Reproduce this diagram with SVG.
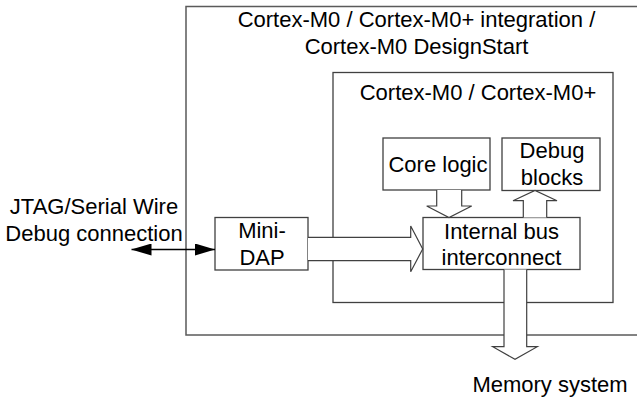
<svg xmlns="http://www.w3.org/2000/svg" width="637" height="398" viewBox="0 0 637 398">
<style>
  .box { fill: #ffffff; stroke: #404040; stroke-width: 1.3; }
  .outer { fill: #ffffff; stroke: #5a5a5a; stroke-width: 1.5; }
  .lbl { font-family: "Liberation Sans", Arial, sans-serif; font-size: 22px; fill: #000000; text-anchor: middle; }
  .barrow { fill: #ffffff; stroke: #404040; stroke-width: 1.2; stroke-linejoin: miter; }
  .wire { stroke: #000000; stroke-width: 1.3; fill: none; }
</style>
<defs>
  <marker id="ah" viewBox="0 0 20 12" refX="20" refY="6" markerWidth="20" markerHeight="12" markerUnits="userSpaceOnUse" orient="auto-start-reverse">
    <path d="M0,0 L20,6 L0,12 Z" fill="#000000"/>
  </marker>
</defs>
<rect width="637" height="398" fill="#ffffff"/>

<g id="integration">
  <rect class="outer" x="186" y="6.5" width="460" height="328.5"/>
  <text class="lbl" x="416.5" y="27">Cortex-M0 / Cortex-M0+ integration /</text>
  <text class="lbl" x="416.5" y="54">Cortex-M0 DesignStart</text>
</g>

<g id="cortex">
  <rect class="box" x="333" y="72.5" width="280" height="230"/>
  <text class="lbl" x="478" y="100">Cortex-M0 / Cortex-M0+</text>
</g>

<g id="core-logic">
  <rect class="box" x="383" y="138" width="107" height="52"/>
  <text class="lbl" x="438" y="171.5">Core logic</text>
</g>

<g id="debug-blocks">
  <rect class="box" x="502" y="138" width="98" height="52.5"/>
  <text class="lbl" x="552" y="158">Debug</text>
  <text class="lbl" x="552" y="185">blocks</text>
</g>

<g id="mini-dap">
  <rect class="box" x="215" y="217.5" width="93" height="52.5"/>
  <text class="lbl" x="262" y="237.5">Mini-</text>
  <text class="lbl" x="262" y="264.5">DAP</text>
</g>

<g id="bus">
  <rect class="box" x="423" y="217.5" width="157" height="52"/>
  <text class="lbl" x="501.5" y="238.5">Internal bus</text>
  <text class="lbl" x="501.5" y="265">interconnect</text>
</g>

<g id="jtag">
  <text class="lbl" x="94" y="214">JTAG/Serial Wire</text>
  <text class="lbl" x="94" y="241">Debug connection</text>
</g>

<g id="memory">
  <text class="lbl" x="550" y="392">Memory system</text>
</g>

<g id="connectors">
  <line class="wire" x1="131.5" y1="249.5" x2="215" y2="249.5" marker-start="url(#ah)" marker-end="url(#ah)"/>
  <path class="barrow" d="M308,237.3 L410.7,237.3 L410.7,226 L422.7,249 L410.7,271.7 L410.7,260.7 L308,260.7"/>
  <path class="barrow" d="M436.7,190 L436.7,206 L426.7,206 L449,217.5 L471.7,206 L461.7,206 L461.7,190"/>
  <path class="barrow" d="M523.3,217.5 L523.3,200.7 L513,200.7 L535,190.5 L557,200.7 L546.7,200.7 L546.7,217.5"/>
  <path class="barrow" d="M504,269.5 L504,346.7 L492.7,346.7 L515,359.3 L537.3,346.7 L526.7,346.7 L526.7,269.5"/>
</g>
</svg>
